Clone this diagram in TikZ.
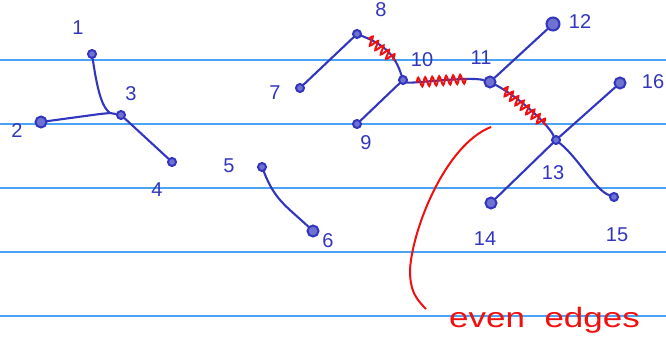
\documentclass[tikz,border=0pt]{standalone}
\usepackage{fontspec}
\setsansfont{Liberation Sans}
\usetikzlibrary{decorations.pathmorphing}
\definecolor{pen}{HTML}{3236BE}
\definecolor{rulecol}{HTML}{4AA3F5}
\definecolor{ink}{HTML}{F01010}
\tikzset{
  dot/.style={circle, draw=pen, fill=pen!70, line width=2pt, inner sep=0pt, minimum size=8pt},
  bigdot/.style={dot, minimum size=11pt},
  lab/.style={text=pen, font=\sffamily\fontsize{20}{20}\selectfont, inner sep=0pt},
  edge/.style={draw=pen, line width=2.1pt, line cap=round},
  ruling/.style={draw=rulecol, line width=1.2pt},
  wavy/.style={draw=ink, line width=2pt, decorate, decoration={snake, amplitude=4.5pt, segment length=7pt}},
}
\begin{document}
\begin{tikzpicture}[x=1pt,y=-1pt]
\useasboundingbox (0,0) rectangle (666,344);
\fill[white] (0,0) rectangle (666,344);
% ruled lines
\foreach \yy in {60,124,188,252,316} \draw[ruling] (0,\yy) -- (666,\yy);
% vertices
\node[dot] (n1) at (92,54) {};
\node[bigdot] (n2) at (41,122) {};
\node[dot] (n3) at (121,115) {};
\node[dot] (n4) at (172,162) {};
\node[dot] (n5) at (262,167) {};
\node[bigdot] (n6) at (313,231) {};
\node[dot] (n7) at (300,88) {};
\node[dot] (n8) at (357,34) {};
\node[dot] (n9) at (357,124) {};
\node[dot] (n10) at (403,80) {};
\node[bigdot] (n11) at (490,82) {};
\node[bigdot, minimum size=13pt] (n12) at (553,24) {};
\node[dot] (n13) at (556,140) {};
\node[bigdot] (n14) at (491,203) {};
\node[dot] (n15) at (614,197) {};
\node[bigdot] (n16) at (620,83) {};
% labels
\node[lab] (l1) at (78,28) {1};
\node[lab] (l2) at (17,131) {2};
\node[lab] (l3) at (131,94) {3};
\node[lab] (l4) at (157,190) {4};
\node[lab] (l5) at (229,166) {5};
\node[lab] (l6) at (328,241) {6};
\node[lab] (l7) at (275,93) {7};
\node[lab] (l8) at (381,10) {8};
\node[lab] (l9) at (366,143) {9};
\node[lab] (l10) at (422,60) {10};
\node[lab] (l11) at (481,58) {11};
\node[lab] (l12) at (580,22) {12};
\node[lab] (l13) at (553,173) {13};
\node[lab] (l14) at (485,239) {14};
\node[lab] (l15) at (617,235) {15};
\node[lab] (l16) at (653,82) {16};
% edges
\draw[edge] (n1) .. controls (98,95) and (103,108) .. (110,113) -- (n3);
\draw[edge] (n2) -- (100,114) -- (110,113);
\draw[edge] (n3) -- (n4);
\draw[edge] (n5) .. controls (275,200) and (285,205) .. (n6);
\draw[edge] (n7) -- (n8);
\draw[edge] (n8) .. controls (385,45) and (395,55) .. (n10)
  coordinate[pos=0.1] (w8a) coordinate[pos=0.72] (w8b);
\draw[edge] (n9) -- (n10);
\draw[edge] (n10) .. controls (410,84) and (470,76) .. (n11)
  coordinate[pos=0.22] (w10a) coordinate[pos=0.75] (w10b);
\draw[edge] (n11) -- (n12);
\draw[edge] (n11) .. controls (515,95) and (545,120) .. (n13)
  coordinate[pos=0.12] (w11a) coordinate[pos=0.8] (w11b);
\draw[edge] (n13) -- (n16);
\draw[edge] (n13) -- (n14);
\draw[edge] (n13) .. controls (580,160) and (595,190) .. (n15);
% even edges marks
\draw[wavy] (w8a) -- (w8b);
\draw[wavy] (w10a) -- (w10b);
\draw[wavy] (w11a) -- (w11b);
% red note
\coordinate (c0) at (491,127);
\coordinate (c1) at (426,309);
\draw[draw=ink, line width=2pt] (c0) .. controls (445,145) and (412,230) .. (410,270) .. controls (410,290) and (415,298) .. (c1);
\node[text=ink, font=\sffamily\fontsize{28}{28}\selectfont, inner sep=0pt, anchor=west] (note) at (449,320) {\scalebox{1.25}[1]{even\ \ edges}};
\end{tikzpicture}
\end{document}
